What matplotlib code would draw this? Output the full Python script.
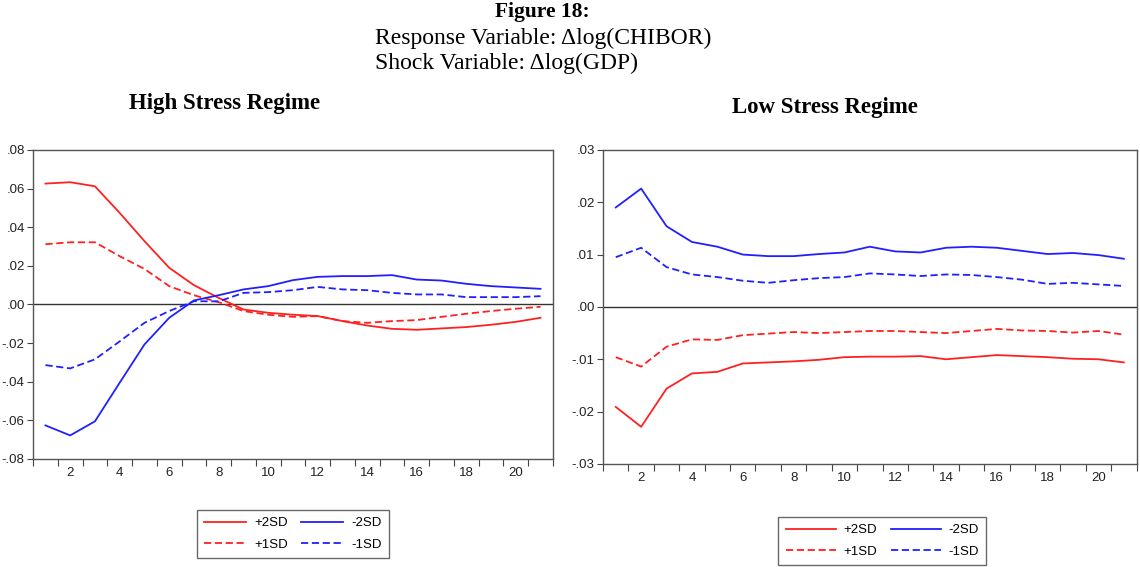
import numpy as np
import matplotlib
matplotlib.use("Agg")
import matplotlib.pyplot as plt
from matplotlib.ticker import FuncFormatter

# periods 1..21
periods = np.arange(1, 22)

# High stress regime responses
high_p2 = [0.0626, 0.0633, 0.0612, 0.0474, 0.0328, 0.0190, 0.0100, 0.0034, -0.0026, -0.0043,
           -0.0053, -0.0060, -0.0086, -0.0109, -0.0126, -0.0131, -0.0124, -0.0117, -0.0105, -0.0090, -0.0069]
high_p1 = [0.0312, 0.0322, 0.0322, 0.0250, 0.0184, 0.0095, 0.0048, 0.0012, -0.0034, -0.0053,
           -0.0064, -0.0060, -0.0086, -0.0095, -0.0086, -0.0081, -0.0064, -0.0048, -0.0034, -0.0022, -0.0012]
high_m2 = [-0.0626, -0.0678, -0.0605, -0.0405, -0.0207, -0.0069, 0.0021, 0.0048, 0.0078, 0.0095,
           0.0126, 0.0143, 0.0147, 0.0147, 0.0152, 0.0129, 0.0124, 0.0107, 0.0095, 0.0088, 0.0081]
high_m1 = [-0.0314, -0.0331, -0.0284, -0.0191, -0.0095, -0.0034, 0.0017, 0.0016, 0.0060, 0.0064,
           0.0074, 0.0091, 0.0078, 0.0074, 0.0060, 0.0052, 0.0052, 0.0038, 0.0038, 0.0038, 0.0043]

# Low stress regime responses
low_p2 = [-0.0191, -0.0229, -0.0156, -0.0127, -0.0124, -0.0108, -0.0106, -0.0104, -0.0101, -0.0096,
          -0.0095, -0.0095, -0.0094, -0.0100, -0.0096, -0.0092, -0.0094, -0.0096, -0.0099, -0.0100, -0.0106]
low_p1 = [-0.0096, -0.0114, -0.0076, -0.0062, -0.0063, -0.0054, -0.0051, -0.0048, -0.0050, -0.0048,
          -0.0046, -0.0046, -0.0048, -0.0050, -0.0046, -0.0042, -0.0045, -0.0046, -0.0049, -0.0046, -0.0053]
low_m2 = [0.0190, 0.0226, 0.0154, 0.0124, 0.0115, 0.0100, 0.0097, 0.0097, 0.0101, 0.0104,
          0.0115, 0.0106, 0.0104, 0.0113, 0.0115, 0.0113, 0.0107, 0.0101, 0.0103, 0.0099, 0.0092]
low_m1 = [0.0095, 0.0113, 0.0076, 0.0062, 0.0057, 0.0050, 0.0046, 0.0051, 0.0055, 0.0057,
          0.0064, 0.0062, 0.0059, 0.0062, 0.0061, 0.0057, 0.0052, 0.0044, 0.0046, 0.0043, 0.0040]

labels = ["+2SD", "+1SD", "-2SD", "-1SD"]
RED = "#ff2020"
BLUE = "#2020ff"

serif = ["Liberation Serif", "DejaVu Serif"]
sans = ["Liberation Sans", "DejaVu Sans"]


def eviews_fmt(v, pos):
    s = f"{v:.2f}"
    s = s.replace("0.", ".", 1)
    return s


def draw_panel(ax, p2, p1, m2, m1, ylim, ystep):
    ax.plot(periods, p2, color=RED, lw=1.3, label=labels[0])
    ax.plot(periods, p1, color=RED, lw=1.3, ls=(0, (4, 2)), label=labels[1])
    ax.plot(periods, m2, color=BLUE, lw=1.3, label=labels[2])
    ax.plot(periods, m1, color=BLUE, lw=1.3, ls=(0, (4, 2)), label=labels[3])
    ax.axhline(0, color="#333333", lw=1.0, zorder=1)

    ax.set_xlim(0.5, 21.5)
    ax.set_ylim(*ylim)
    ax.set_yticks(np.arange(ylim[0], ylim[1] + ystep / 2, ystep))
    ax.yaxis.set_major_formatter(FuncFormatter(eviews_fmt))

    ax.set_xticks(np.arange(0.5, 22, 1))
    ax.set_xticklabels([])
    ax.set_xticks(np.arange(2, 21, 2), minor=True)
    ax.set_xticklabels([str(v) for v in range(2, 21, 2)], minor=True)
    ax.tick_params(axis="x", which="major", direction="out", length=5, color="#444444")
    ax.tick_params(axis="x", which="minor", length=0, pad=6)
    ax.tick_params(axis="y", direction="out", length=4, color="#444444", pad=2)
    for lab in ax.get_xticklabels(minor=True) + ax.get_yticklabels():
        lab.set_fontfamily(sans)
        lab.set_fontsize(9.5)
        lab.set_color("#222222")
    for sp in ax.spines.values():
        sp.set_color("#555555")
        sp.set_linewidth(1.0)


fig = plt.figure(figsize=(11.4, 5.67), dpi=100)

ax1 = fig.add_axes([0.029, 0.1905, 0.456, 0.545])
ax2 = fig.add_axes([0.529, 0.1817, 0.468, 0.554])

draw_panel(ax1, high_p2, high_p1, high_m2, high_m1, (-0.08, 0.08), 0.02)
draw_panel(ax2, low_p2, low_p1, low_m2, low_m1, (-0.03, 0.03), 0.01)

# headings
fig.text(0.476, 0.979, "Figure 18:", ha="center", va="center",
         fontfamily=serif, fontweight="bold", fontsize=15.5)
fig.text(0.329, 0.933, "Response Variable: \u0394log(CHIBOR)", ha="left", va="center",
         fontfamily=serif, fontsize=17)
fig.text(0.329, 0.889, "Shock Variable: \u0394log(GDP)", ha="left", va="center",
         fontfamily=serif, fontsize=17)
fig.text(0.197, 0.817, "High Stress Regime", ha="center", va="center",
         fontfamily=serif, fontweight="bold", fontsize=16.5)
fig.text(0.724, 0.811, "Low Stress Regime", ha="center", va="center",
         fontfamily=serif, fontweight="bold", fontsize=16.5)

# legends
for ax, (cx, cy), hl in [(ax1, (0.257, 0.058), 3.2), (ax2, (0.774, 0.046), 3.8)]:
    h, l = ax.get_legend_handles_labels()
    leg = fig.legend(h, l, ncol=2, loc="center", bbox_to_anchor=(cx, cy),
                     frameon=True, fancybox=False, edgecolor="#444444",
                     prop={"family": sans, "size": 9.5}, handlelength=hl,
                     columnspacing=1.0, handletextpad=0.6, borderpad=0.55,
                     labelspacing=0.7)
    leg.get_frame().set_linewidth(1.0)

fig.savefig("out.png", dpi=100)
